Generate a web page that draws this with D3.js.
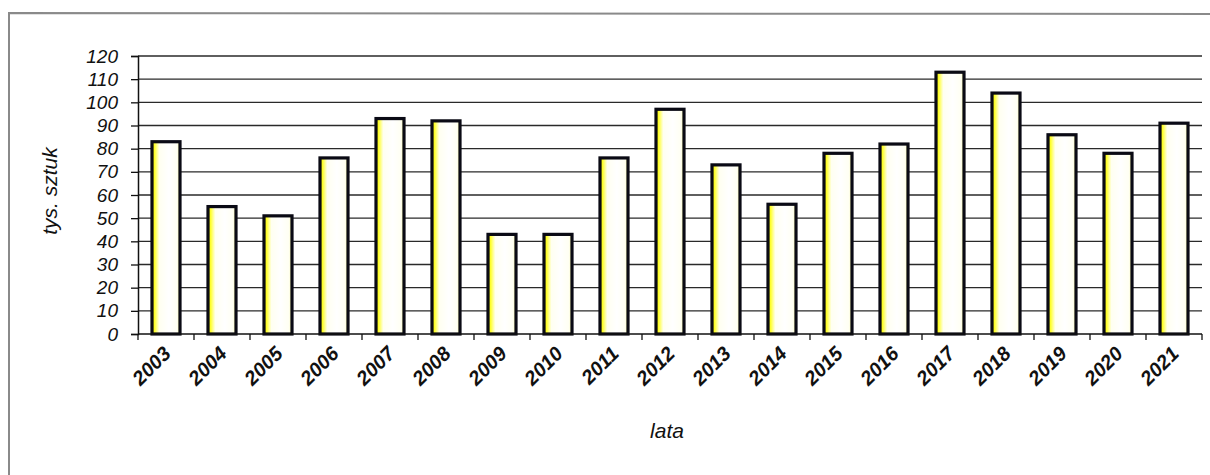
<!DOCTYPE html>
<html>
<head>
<meta charset="utf-8">
<script src="https://cdn.jsdelivr.net/npm/d3@7"></script>
<style>
  body { margin: 0; background: #fff; }
  svg text { font-family: Arial, "Liberation Sans", sans-serif; font-style: italic; fill: #111; }
</style>
</head>
<body>
<svg id="svg" width="1210" height="475"></svg>
<script>
// dane
const years = ["2003","2004","2005","2006","2007","2008","2009","2010","2011","2012",
               "2013","2014","2015","2016","2017","2018","2019","2020","2021"];
const values = [83, 55, 51, 76, 93, 92, 43, 43, 76, 97, 73, 56, 78, 82, 113, 104, 86, 78, 91];
const yTicks = [0,10,20,30,40,50,60,70,80,90,100,110,120];
const yTitle = "tys. sztuk";
const xTitle = "lata";

const svg = d3.select("#svg");
const plotL = 138, plotR = 1202, plotT = 56, plotB = 334;

// ramka (tylko lewa i górna krawędź widoczne)
svg.append("path")
  .attr("d", "M9,475 L9,13 L1210,14")
  .attr("fill", "none")
  .attr("stroke", "#8a8a8a")
  .attr("stroke-width", 2);

const x = d3.scaleBand().domain(years).range([plotL, plotR]).paddingInner(0.5).paddingOuter(0.25);
const y = d3.scaleLinear().domain([0, 120]).range([plotB, plotT]);

// gradient słupków
const grad = svg.append("defs").append("linearGradient")
  .attr("id", "barFill").attr("x1", "0%").attr("x2", "100%").attr("y1", "0%").attr("y2", "0%");
[["0%", "#f0f000"], ["10%", "#ffff30"], ["26%", "#fffff0"], ["60%", "#ffffff"], ["90%", "#fffff2"], ["100%", "#f2f280"]]
  .forEach(s => grad.append("stop").attr("offset", s[0]).attr("stop-color", s[1]));

// linie siatki
svg.append("g").selectAll("line")
  .data(yTicks.filter(d => d > 0))
  .join("line")
  .attr("x1", plotL).attr("x2", plotR)
  .attr("y1", d => y(d)).attr("y2", d => y(d))
  .attr("stroke", "#2a2a2a").attr("stroke-width", 1.3);

// oś Y
const yAxis = svg.append("g")
  .attr("transform", `translate(${plotL},0)`)
  .call(d3.axisLeft(y).tickValues(yTicks).tickSize(7).tickPadding(13));
yAxis.select(".domain").attr("stroke", "#111").attr("stroke-width", 1.5);
yAxis.selectAll(".tick line").attr("stroke", "#111").attr("stroke-width", 1.3);
yAxis.selectAll("text")
  .style("font-size", "19px").style("font-style", "italic")
  .style("font-family", "Arial, 'Liberation Sans', sans-serif").attr("fill", "#111");

// słupki
svg.append("g").selectAll("rect")
  .data(values)
  .join("rect")
  .attr("x", (d, i) => x(years[i]))
  .attr("y", d => y(d))
  .attr("width", x.bandwidth())
  .attr("height", d => plotB - y(d))
  .attr("fill", "url(#barFill)")
  .attr("stroke", "#0a0a14")
  .attr("stroke-width", 3.2);

// oś X
const step = x.step();
svg.append("line")
  .attr("x1", plotL).attr("x2", plotR).attr("y1", plotB).attr("y2", plotB)
  .attr("stroke", "#111").attr("stroke-width", 1.5);
svg.append("g").selectAll("line")
  .data(d3.range(years.length + 1))
  .join("line")
  .attr("x1", i => plotL + i * step).attr("x2", i => plotL + i * step)
  .attr("y1", plotB).attr("y2", plotB + 6)
  .attr("stroke", "#111").attr("stroke-width", 1.3);

svg.append("g").selectAll("text")
  .data(years)
  .join("text")
  .attr("transform", d => `translate(${x(d) + x.bandwidth() / 2 + 6},${plotB + 21}) rotate(-45)`)
  .attr("text-anchor", "end")
  .style("font-size", "20px")
  .style("font-weight", "bold")
  .text(d => d);

// tytuły osi
svg.append("text")
  .attr("transform", "translate(57,191) rotate(-90)")
  .attr("text-anchor", "middle")
  .style("font-size", "21px")
  .text(yTitle);

svg.append("text")
  .attr("x", (plotL + plotR) / 2 - 3).attr("y", 438)
  .attr("text-anchor", "middle")
  .style("font-size", "21px")
  .text(xTitle);
</script>
</body>
</html>
